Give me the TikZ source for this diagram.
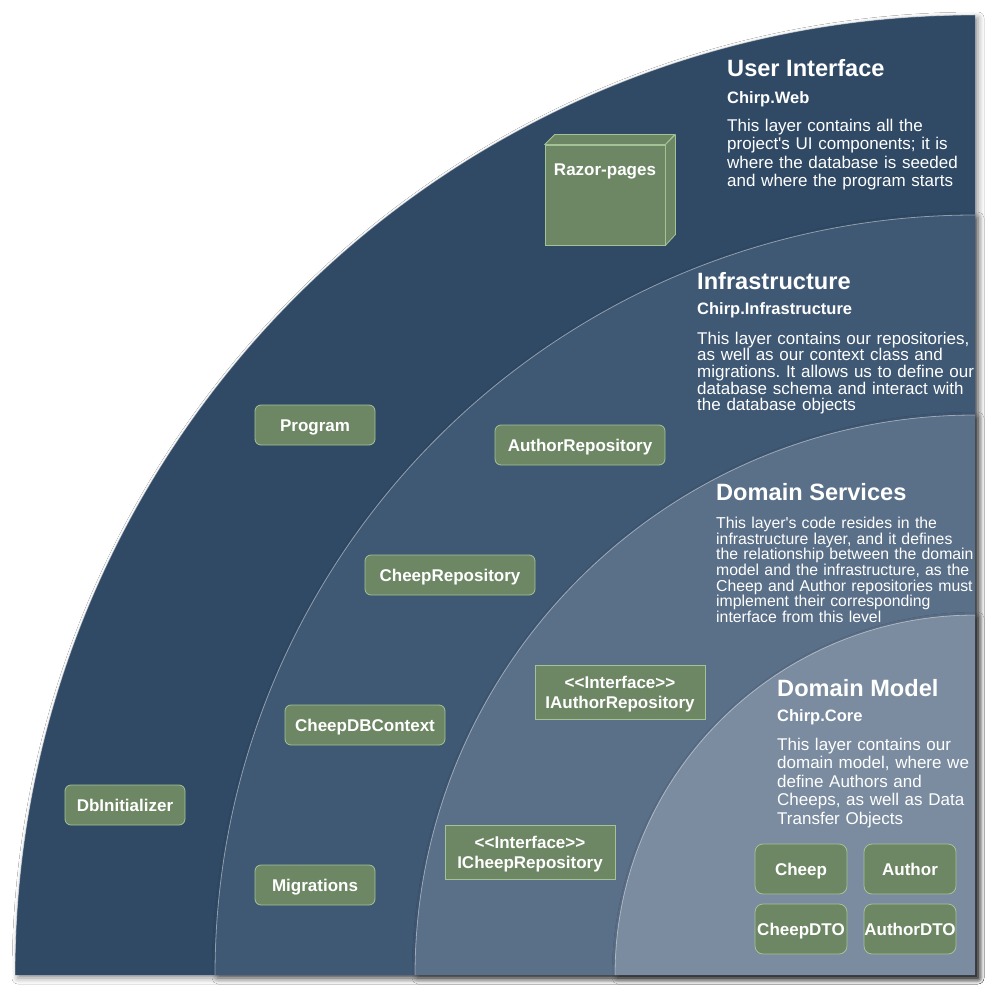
\documentclass[tikz,border=0pt]{standalone}
\usepackage{fontspec}
\newfontfamily\lib{Liberation Sans}
\usetikzlibrary{shadows.blur}
\definecolor{lui}{HTML}{304A66}
\definecolor{linf}{HTML}{3F5874}
\definecolor{lds}{HTML}{5A6F88}
\definecolor{ldm}{HTML}{7B8CA0}
\definecolor{boxgreen}{HTML}{6D8764}
\definecolor{boxline}{HTML}{A3C396}
\frenchspacing
\begin{document}
\begin{tikzpicture}[x=1pt,y=-1pt,
  layerfill/.style={blur shadow={shadow xshift=3pt, shadow yshift=-3pt, shadow blur radius=6pt, shadow opacity=45}},
  layeredge/.style={draw=white, draw opacity=0.45, line width=0.8pt},
  titletext/.style={anchor=base west, inner sep=0pt, text=white, font=\lib\bfseries\fontsize{23.6}{26}\selectfont},
  subtext/.style={anchor=base west, inner sep=0pt, text=white, font=\lib\bfseries\fontsize{16.5}{19}\selectfont},
  bodytext/.style={anchor=base west, inner sep=0pt, text=white, text width=300pt, align=left},
  compbox/.style={draw=boxline, fill=boxgreen, line width=0.8pt, rounded corners=6pt, text=white, inner sep=0pt, align=center, font=\lib\bfseries\fontsize{17}{20}\selectfont},
  onebox/.style={compbox, text height=12.3pt, text depth=0pt},
  ifacebox/.style={compbox, sharp corners, minimum width=170pt, minimum height=54pt}
]
\useasboundingbox (0,0) rectangle (987,987);
\fill[white] (0,0) rectangle (987,987);

% layers
\fill[lui, layerfill] (975,975) -- (15,975) arc[start angle=180, end angle=270, radius=960] -- cycle;
\draw[layeredge] (15,975) arc[start angle=180, end angle=270, radius=960];
\fill[linf, layerfill] (975,975) -- (215,975) arc[start angle=180, end angle=270, radius=760] -- cycle;
\draw[layeredge] (215,975) arc[start angle=180, end angle=270, radius=760];
\fill[lds, layerfill] (975,975) -- (415,975) arc[start angle=180, end angle=270, radius=560] -- cycle;
\draw[layeredge] (415,975) arc[start angle=180, end angle=270, radius=560];
\fill[ldm, layerfill] (975,975) -- (615,975) arc[start angle=180, end angle=270, radius=360] -- cycle;
\draw[layeredge] (615,975) arc[start angle=180, end angle=270, radius=360];

% texts
\node[titletext] (tui) at (727,76.7) {User Interface};
\node[subtext] (sui) at (727,103.3) {Chirp.Web};
\node[bodytext, font=\lib\fontsize{17}{18.3}\selectfont] (bui) at (727,131.7)
  {This layer contains all the\\project's UI components; it is\\where the database is seeded\\and where the program starts};

\node[titletext] (tinf) at (697,289.3) {Infrastructure};
\node[subtext] (sinf) at (697,314.3) {Chirp.Infrastructure};
\node[bodytext, font=\lib\fontsize{17}{16.6}\selectfont] (binf) at (697,344.3)
  {This layer contains our repositories,\\as well as our context class and\\migrations. It allows us to define our\\database schema and interact with\\the database objects};

\node[titletext] (tds) at (716,500.7) {Domain Services};
\node[bodytext, font=\lib\fontsize{15.8}{15.7}\selectfont] (bds) at (716,528.3)
  {This layer's code resides in the\\infrastructure layer, and it defines\\the relationship between the domain\\model and the infrastructure, as the\\Cheep and Author repositories must\\implement their corresponding\\interface from this level};

\node[titletext] (tdm) at (777,696.7) {Domain Model};
\node[subtext] (sdm) at (777,721.7) {Chirp.Core};
\node[bodytext, font=\lib\fontsize{17}{18.5}\selectfont] (bdm) at (777,750)
  {This layer contains our\\domain model, where we\\define Authors and\\Cheeps, as well as Data\\Transfer Objects};

% Razor-pages cube
\node[draw=boxline, fill=boxgreen, line width=0.8pt, minimum width=120pt, minimum height=100pt, inner sep=0pt] (razor) at (605,195) {};
\filldraw[draw=boxline, fill=boxgreen, line width=0.8pt, line join=round]
  (razor.north west) -- ++(10,-10) -- ++(120,0) -- (razor.north east) -- cycle;
\filldraw[draw=boxline, fill=boxgreen, line width=0.8pt, line join=round]
  (razor.north east) -- ++(10,-10) -- ++(0,100) -- (razor.south east) -- cycle;
\node[text=white, inner sep=0pt, text height=12.3pt, text depth=0pt, font=\lib\bfseries\fontsize{17}{20}\selectfont] (razorlabel) at (605,169.5) {Razor-pages};

% components
\node[onebox, minimum width=120pt, minimum height=40pt] (program) at (315,425) {Program};
\node[onebox, minimum width=170pt, minimum height=40pt] (authorrepo) at (580,445) {AuthorRepository};
\node[onebox, minimum width=170pt, minimum height=40pt] (cheeprepo) at (450,575) {CheepRepository};
\node[onebox, minimum width=160pt, minimum height=40pt] (dbcontext) at (365,725) {CheepDBContext};
\node[onebox, minimum width=120pt, minimum height=40pt] (dbinit) at (125,805) {DbInitializer};
\node[onebox, minimum width=120pt, minimum height=40pt] (migrations) at (315,885) {Migrations};
\node[ifacebox] (iauthor) at (620,692) {\rule{0pt}{16.5pt}<{}<Interface>{}>\\IAuthorRepository};
\node[ifacebox] (icheep) at (530,852) {\rule{0pt}{16.5pt}<{}<Interface>{}>\\ICheepRepository};
\node[onebox, rounded corners=8pt, minimum width=92pt, minimum height=50pt] (cheep) at (801,869) {Cheep};
\node[onebox, rounded corners=8pt, minimum width=92pt, minimum height=50pt] (author) at (910,869) {Author};
\node[onebox, rounded corners=8pt, minimum width=92pt, minimum height=50pt] (cheepdto) at (801,929) {CheepDTO};
\node[onebox, rounded corners=8pt, minimum width=92pt, minimum height=50pt] (authordto) at (910,929) {AuthorDTO};
\end{tikzpicture}
\end{document}
